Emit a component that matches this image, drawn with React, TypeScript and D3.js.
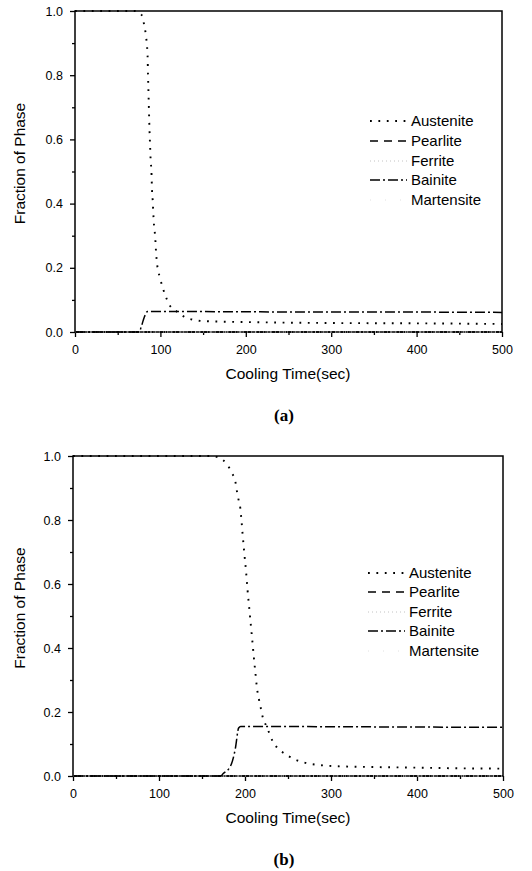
import React, { useEffect, useRef } from 'react';
import * as d3 from 'd3';

// legend order
const phases = ['Austenite', 'Pearlite', 'Ferrite', 'Bainite', 'Martensite'];

// axis ticks
const xTicks = [0, 100, 200, 300, 400, 500];
const xMinor = [50, 150, 250, 350, 450];
const yTicks = [0, 0.2, 0.4, 0.6, 0.8, 1.0];
const yMinor = [0.1, 0.3, 0.5, 0.7, 0.9];

// (a) austenite
const timeAustA = [0, 70, 76, 79, 81, 83, 84, 85, 85.5, 86, 86.5, 87, 87.5, 88, 88.5, 89.5, 90.2, 91, 91.5, 92.6, 93.8, 95, 96, 99.6, 102.3, 105.5, 110.5, 119, 129, 139, 150, 200, 300, 400, 500];
const austA = [1.0, 1.0, 0.993, 0.982, 0.956, 0.925, 0.9, 0.86, 0.8, 0.75, 0.7, 0.65, 0.61, 0.575, 0.54, 0.5, 0.44, 0.41, 0.38, 0.33, 0.3, 0.245, 0.215, 0.168, 0.142, 0.116, 0.085, 0.064, 0.046, 0.038, 0.034, 0.031, 0.028, 0.027, 0.025];

// (a) bainite
const timeBainA = [0, 75, 78, 81, 85, 100, 200, 300, 400, 500];
const bainA = [0, 0, 0.02, 0.045, 0.064, 0.064, 0.063, 0.062, 0.062, 0.061];

// (b) austenite
const timeAustB = [0, 160, 169.4, 179, 185, 188.8, 190.7, 192.6, 194.6, 195.7, 197.3, 199.2, 201.2, 203, 205, 207, 209, 211, 212, 214, 216, 218, 220.5, 225.6, 232.6, 241, 250.8, 260.5, 274, 287.6, 303, 350, 400, 450, 500];
const austB = [1.0, 1.0, 0.995, 0.974, 0.946, 0.92, 0.888, 0.862, 0.836, 0.805, 0.753, 0.696, 0.64, 0.58, 0.523, 0.466, 0.409, 0.351, 0.325, 0.273, 0.242, 0.217, 0.185, 0.152, 0.106, 0.08, 0.062, 0.049, 0.039, 0.034, 0.031, 0.028, 0.026, 0.024, 0.023];

// (b) bainite
const timeBainB = [0, 172, 174.4, 183, 188.8, 192.6, 195, 300, 400, 500];
const bainB = [0, 0, 0.007, 0.03, 0.086, 0.15, 0.155, 0.154, 0.153, 0.152];

// phases that stay at zero
const timeFlat = [0, 500];
const pearliteFlat = [0, 0];
const ferriteFlat = [0, 0];
const martensiteFlat = [0, 0];

const styles: Record<string, { color: string; dash: string; width: number }> = {
  Austenite: { color: '#000', dash: '1.8 6.6', width: 1.9 },
  Pearlite: { color: '#000', dash: '8 6', width: 1.4 },
  Ferrite: { color: '#c2c2c2', dash: '1 3', width: 1 },
  Bainite: { color: '#000', dash: '10 3 2 3', width: 1.5 },
  Martensite: { color: '#e0e0e0', dash: '1 14', width: 1 },
};

const zip = (xs: number[], ys: number[]) => xs.map((t, i) => [t, ys[i]] as [number, number]);

const panels = [
  {
    left: 75, right: 502, top: 11, bottom: 332, tag: '(a)',
    legendX: 370, legendRows: [121, 141, 161, 180, 200],
    series: {
      Pearlite: zip(timeFlat, pearliteFlat),
      Ferrite: zip(timeFlat, ferriteFlat),
      Martensite: zip(timeFlat, martensiteFlat),
      Bainite: zip(timeBainA, bainA),
      Austenite: zip(timeAustA, austA),
    } as Record<string, [number, number][]>,
  },
  {
    left: 73, right: 503, top: 456, bottom: 776, tag: '(b)',
    legendX: 368, legendRows: [573, 592, 612, 631, 651],
    series: {
      Pearlite: zip(timeFlat, pearliteFlat),
      Ferrite: zip(timeFlat, ferriteFlat),
      Martensite: zip(timeFlat, martensiteFlat),
      Bainite: zip(timeBainB, bainB),
      Austenite: zip(timeAustB, austB),
    } as Record<string, [number, number][]>,
  },
];

const FONT = "'Liberation Sans', Arial, sans-serif";

function drawPanel(svg: any, p: any) {
  const g = svg.append('g');
  const x = d3.scaleLinear().domain([0, 500]).range([p.left, p.right]);
  const y = d3.scaleLinear().domain([0, 1]).range([p.bottom, p.top]);

  const styleAxis = (sel: any) => {
    sel.select('.domain').remove();
    sel.selectAll('line').attr('stroke', '#000').attr('stroke-width', 1.3);
    sel.selectAll('text').attr('font-family', FONT).attr('font-size', 12.5).attr('fill', '#000');
  };

  // minor ticks
  g.append('g').attr('transform', `translate(0,${p.bottom})`)
    .call(d3.axisBottom(x).tickValues(xMinor).tickSize(3).tickSizeOuter(0).tickFormat(() => ''))
    .call(styleAxis);
  g.append('g').attr('transform', `translate(${p.left},0)`)
    .call(d3.axisLeft(y).tickValues(yMinor).tickSize(3).tickSizeOuter(0).tickFormat(() => ''))
    .call(styleAxis);

  // major ticks
  g.append('g').attr('transform', `translate(0,${p.bottom})`)
    .call(d3.axisBottom(x).tickValues(xTicks).tickSize(5).tickPadding(8).tickSizeOuter(0).tickFormat(d3.format('d')))
    .call(styleAxis);
  g.append('g').attr('transform', `translate(${p.left},0)`)
    .call(d3.axisLeft(y).tickValues(yTicks).tickSize(5).tickPadding(7).tickSizeOuter(0).tickFormat(d3.format('.1f')))
    .call(styleAxis);

  // frame
  g.append('rect')
    .attr('x', p.left).attr('y', p.top)
    .attr('width', p.right - p.left).attr('height', p.bottom - p.top)
    .attr('fill', 'none').attr('stroke', '#000').attr('stroke-width', 1.5);

  const line = d3.line<[number, number]>()
    .x(d => x(d[0]))
    .y(d => y(d[1]))
    .curve(d3.curveMonotoneX);

  Object.keys(p.series).forEach(name => {
    const s = styles[name];
    g.append('path')
      .datum(p.series[name])
      .attr('d', line)
      .attr('fill', 'none')
      .attr('stroke', s.color)
      .attr('stroke-width', s.width)
      .attr('stroke-dasharray', s.dash);
  });

  // legend
  phases.forEach((name, i) => {
    const s = styles[name];
    const cy = p.legendRows[i];
    g.append('line')
      .attr('x1', p.legendX).attr('x2', p.legendX + 37)
      .attr('y1', cy).attr('y2', cy)
      .attr('stroke', s.color).attr('stroke-width', s.width)
      .attr('stroke-dasharray', s.dash);
    g.append('text')
      .attr('x', p.legendX + 41).attr('y', cy + 5.4)
      .attr('font-family', FONT).attr('font-size', 15).attr('fill', '#000')
      .text(name);
  });

  // axis titles
  g.append('text')
    .attr('x', 288).attr('y', p.bottom + 46.5)
    .attr('text-anchor', 'middle')
    .attr('font-family', FONT).attr('font-size', 15.5).attr('fill', '#000')
    .text('Cooling Time(sec)');
  const cy = (p.top + p.bottom) / 2 - 8;
  g.append('text')
    .attr('transform', `translate(25,${cy}) rotate(-90)`)
    .attr('text-anchor', 'middle')
    .attr('font-family', FONT).attr('font-size', 15.5).attr('fill', '#000')
    .text('Fraction of Phase');

  // panel tag
  g.append('text')
    .attr('x', 284).attr('y', p.bottom + 89)
    .attr('text-anchor', 'middle')
    .attr('font-family', "'Liberation Serif', 'Times New Roman', serif")
    .attr('font-weight', 'bold').attr('font-size', 17).attr('fill', '#000')
    .text(p.tag);
}

const App = () => {
  const ref = useRef<SVGSVGElement>(null);

  useEffect(() => {
    if (!ref.current) return;
    const svg = d3.select(ref.current);
    svg.selectAll('*').remove();
    panels.forEach(p => drawPanel(svg, p));
  }, []);

  return (
    <svg
      ref={ref}
      width={532}
      height={871}
      style={{ position: 'absolute', left: 0, top: 0, background: '#fff' }}
    />
  );
};

export default App;
